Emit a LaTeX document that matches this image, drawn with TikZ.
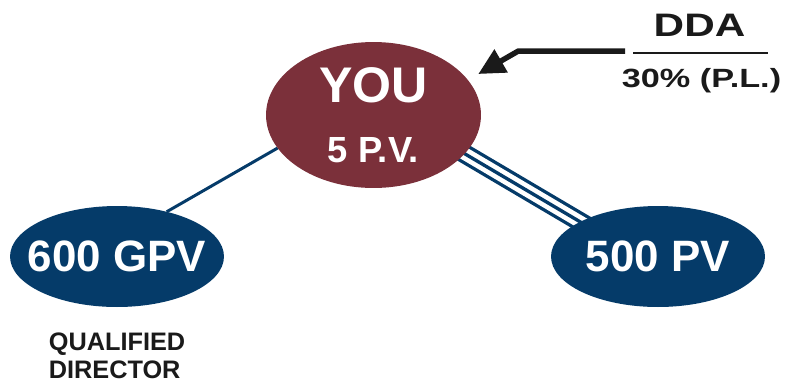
\documentclass[tikz,border=0pt]{standalone}
\usepackage{fontspec}
\setmainfont{Liberation Sans}
\newfontfamily\widesans{Liberation Sans}[FakeStretch=1.3]
\usetikzlibrary{shapes.geometric, positioning, arrows.meta, backgrounds}
\definecolor{youred}{RGB}{123,48,58}
\definecolor{gpvblue}{RGB}{5,59,105}
\definecolor{ink}{RGB}{26,26,26}
\tikzset{
    >={Triangle[length=15pt, width=14.5pt]}, % Big solid arrowhead
    bubble/.style={ellipse, inner sep=0pt, inner xsep=-12pt, outer sep=0pt, text=white}, % Filled ovals
    leg/.style={draw=gpvblue, line width=1.7pt}, % Plain connector
    tripleleg/.style={draw=gpvblue, line width=1.9pt, double=white, double distance=7.2pt}, % Outer pair of the triple line
    caption/.style={text=ink, inner sep=0pt}, % Dark labels
}

\begin{document}
\begin{tikzpicture}[x=0.02cm, y=-0.02cm]
    \useasboundingbox (0,0) rectangle (786,383);

    \node[bubble, fill=youred, minimum width=4.3cm, minimum height=2.92cm, align=center,
          font=\fontsize{28.5}{34}\selectfont\bfseries] (you) at (373.5,115)
          {YOU\\{\fontsize{20.7}{34}\selectfont 5 P.V.}};
    \node[bubble, fill=gpvblue, minimum width=4.28cm, minimum height=2.02cm,
          font=\fontsize{25}{30}\selectfont\bfseries] (gpv) at (117,256.5) {600 GPV};
    \node[bubble, fill=gpvblue, minimum width=4.28cm, minimum height=2.02cm,
          font=\fontsize{25}{30}\selectfont\bfseries] (pv) at (658,256.5) {500 PV};

    \node[caption, below=0.5cm of gpv, align=left,
          font=\fontsize{14.4}{16.4}\selectfont\bfseries] (qd) {QUALIFIED\\DIRECTOR};

    \node[caption, anchor=base, font=\widesans\fontsize{18.5}{22}\selectfont\bfseries] (dda) at (699.5,36) {DDA};
    \node[caption, anchor=base, font=\widesans\fontsize{15}{18}\selectfont\bfseries] (pl) at (701.5,87.3) {30\% (P.L.)};
    \draw[ink, line width=1.1pt] (633,52.8) coordinate (rulel) -- (768,52.8) coordinate (ruler);

    \coordinate (tail) at (625,51.2);
    \coordinate (bend) at (518,51.2);
    \coordinate (tip) at (478.3,74);
    \draw[->, ink, line width=3.1pt] (tail) -- (bend) -- (tip);

    \begin{scope}[on background layer]
        \draw[leg] (gpv.42) -- (you.199);
        \draw[tripleleg, shorten <=-20pt, shorten >=-20pt] (you.337) -- (pv.156);
        \draw[leg, line width=1.9pt, shorten <=-20pt, shorten >=-20pt] (you.337) -- (pv.156);
    \end{scope}
\end{tikzpicture}
\end{document}
